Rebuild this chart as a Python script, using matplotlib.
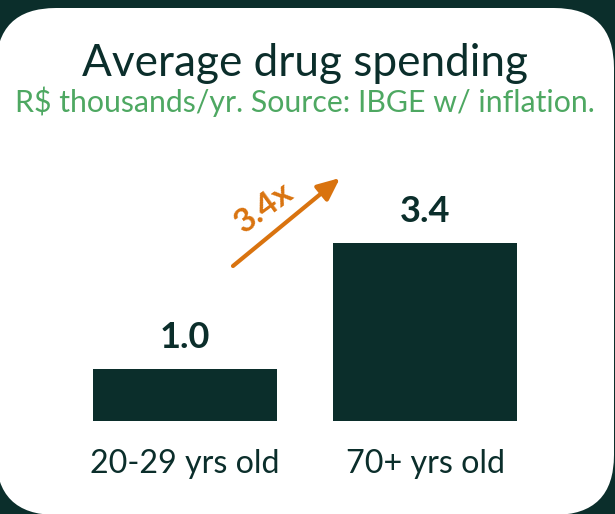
import matplotlib
matplotlib.use("Agg")
import matplotlib.pyplot as plt
from matplotlib.patches import FancyBboxPatch

# ---- data ----
categories = ["20-29 yrs old", "70+ yrs old"]
values = [1.0, 3.4]
value_labels = ["1.0", "3.4"]
title = "Average drug spending"
subtitle = "R$ thousands/yr. Source: IBGE w/ inflation."
ratio_label = "3.4x"

# ---- style ----
BG = "#0b2e2b"
DARK = "#0b2e2b"
GREEN = "#4ea862"
ORANGE = "#d9730f"
FONT = "Lato"

W, H = 615, 514
fig = plt.figure(figsize=(W / 100, H / 100), dpi=100)
fig.patch.set_facecolor(BG)

# background card
bg = fig.add_axes([0, 0, 1, 1])
bg.set_xlim(0, W)
bg.set_ylim(H, 0)
bg.axis("off")
bg.add_patch(FancyBboxPatch((-4, 8), 618, 507,
                            boxstyle="round,pad=0,rounding_size=60",
                            fc="white", ec="none"))

# main axes: baseline at y=421px, 52.5 px per unit, bar centres at 185/425 px
px_per_unit = 52.5
ax = fig.add_axes([0, (H - 421) / H, 1, 413 / H])
ax.set_xlim(-185 / 240, (W - 185) / 240)
ax.set_ylim(0, 413 / px_per_unit)
ax.axis("off")
ax.patch.set_alpha(0)

xs = list(range(len(categories)))
ax.bar(xs, values, width=184 / 240, color=DARK)

renderer = fig.canvas.get_renderer()

def fit(t, target_w):
    bb = t.get_window_extent(renderer)
    t.set_fontsize(t.get_fontsize() * target_w / bb.width)

for x, v, lab in zip(xs, values, value_labels):
    ax.annotate(lab, (x, v), xytext=(0, 15), textcoords="offset points",
                ha="center", va="baseline", fontsize=26, fontweight="bold",
                color=DARK, family=FONT)

for x, cat in zip(xs, categories):
    t = ax.annotate(cat, (x, 0), xytext=(0, -37.4), textcoords="offset points",
                    ha="center", va="baseline", fontsize=22, color=DARK,
                    family=FONT)
    if x == 0:
        fit(t, 189)
        cat_fs = t.get_fontsize()
    else:
        t.set_fontsize(cat_fs)

t1 = fig.text(305 / W, 1 - 76 / H, title, ha="center", va="baseline",
              fontsize=28, color=DARK, family=FONT)
fit(t1, 446)
t2 = fig.text(305 / W, 1 - 112 / H, subtitle, ha="center", va="baseline",
              fontsize=18, color=GREEN, family=FONT)
fit(t2, 578)

# growth arrow
def to_data(px, py):
    return ((px - 185) / 240, (421 - py) / px_per_unit)

ax.annotate("", xy=to_data(340, 178), xytext=to_data(233, 266),
            arrowprops=dict(arrowstyle="-|>,head_length=0.9,head_width=0.4",
                            lw=3, color=ORANGE, mutation_scale=15,
                            shrinkA=0, shrinkB=0))
ax.text(*to_data(264, 208), ratio_label, rotation=36, rotation_mode="anchor",
        ha="center", va="center", fontsize=24, fontweight="bold",
        color=ORANGE, family=FONT)

fig.savefig("out.png", dpi=100, facecolor=BG)
